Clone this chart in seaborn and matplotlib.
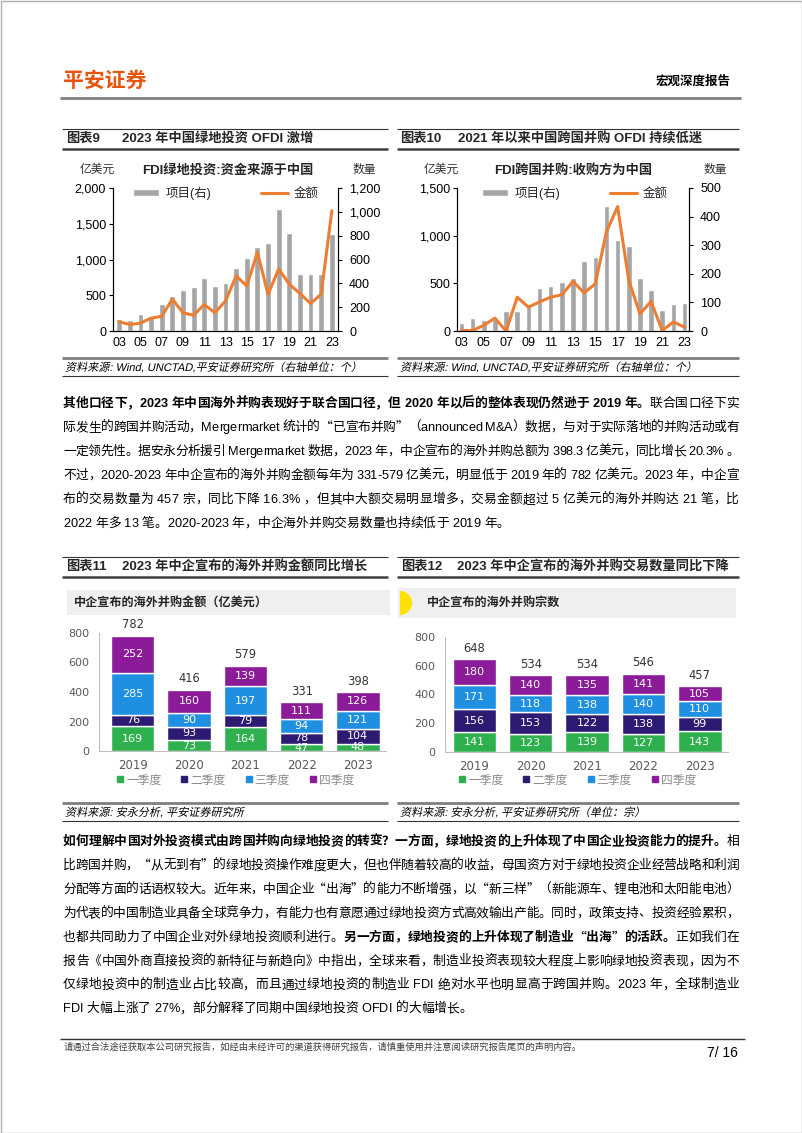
import numpy as np
import pandas as pd
import matplotlib
matplotlib.use('Agg')
import matplotlib.pyplot as plt
import seaborn as sns
from matplotlib.patches import Patch, Rectangle, Wedge, PathPatch
from matplotlib.lines import Line2D
from matplotlib.ticker import FuncFormatter
from matplotlib.textpath import TextPath
from matplotlib.font_manager import FontProperties
from matplotlib.transforms import Affine2D

W, H = 802, 1133

# ---- 图表9 / 图表10 数据 ----
fdi_years = ['03', '04', '05', '06', '07', '08', '09', '10', '11', '12', '13',
             '14', '15', '16', '17', '18', '19', '20', '21', '22', '23']
green_projects = [100, 90, 140, 130, 225, 290, 340, 370, 445, 375, 400,
                  530, 615, 705, 740, 1020, 825, 475, 475, 475, 815]
green_amount = [130, 90, 110, 180, 205, 445, 255, 220, 370, 255, 420,
                770, 630, 1100, 515, 865, 655, 525, 385, 515, 1680]
ma_projects = [29, 44, 40, 43, 71, 71, 96, 150, 156, 170, 184,
               245, 259, 438, 318, 297, 185, 142, 75, 93, 97]
ma_amount = [5, 5, 60, 135, 0, 355, 250, 305, 355, 380, 520,
             400, 495, 1040, 1305, 530, 180, 310, 5, 95, 40]

# ---- 图表11 / 图表12 数据 ----
deal_years = ['2019', '2020', '2021', '2022', '2023']
quarters = ['一季度', '二季度', '三季度', '四季度']
amount_q1 = [169, 73, 164, 47, 48]
amount_q2 = [76, 93, 79, 78, 104]
amount_q3 = [285, 90, 197, 94, 121]
amount_q4 = [252, 160, 139, 111, 126]
amount_total = [782, 416, 579, 331, 398]
count_q1 = [141, 123, 139, 127, 143]
count_q2 = [156, 153, 122, 138, 99]
count_q3 = [171, 118, 138, 140, 110]
count_q4 = [180, 140, 135, 141, 105]
count_total = [648, 534, 534, 546, 457]

GRAY = '#A5A5A5'
ORANGE = '#ED7D31'
Q_COLORS = ['#2FB04E', '#2D1A72', '#1E8FE1', '#8B1B99']
CJK = 'Noto Sans CJK SC'
LAT = ['Liberation Sans', CJK]
VER = ['DejaVu Sans', CJK]

sns.set_theme(style='white')
plt.rcParams['font.family'] = LAT
plt.rcParams['axes.unicode_minus'] = False

fig = plt.figure(figsize=(W / 100, H / 100), dpi=100)
page = fig.add_axes([0, 0, 1, 1])
page.set_xlim(0, W)
page.set_ylim(H, 0)
page.axis('off')
renderer = fig.canvas.get_renderer()


def box(x0, y0, x1, y1):
    return [x0 / W, 1 - y1 / H, (x1 - x0) / W, (y1 - y0) / H]


def hline(x0, x1, y, color='#333333', lw=0.8):
    page.plot([x0, x1], [y, y], color=color, lw=lw, solid_capstyle='butt')


def slanted(x, y, s, size_px, color='#000000'):
    # 斜体（中文字体没有 italic，用 skew 模拟）
    path = TextPath((0, 0), s, size=size_px, prop=FontProperties(family=LAT))
    tr = Affine2D().skew_deg(12, 0).scale(1, -1).translate(x, y + size_px * 0.36) + page.transData
    page.add_patch(PathPatch(path, transform=tr, facecolor=color, lw=0))


# ===== 页眉 / 页脚 =====
page.add_patch(Rectangle((0.5, 0.5), W - 1, H - 1, fill=False, ec='#b0b0b0', lw=1))
page.text(63, 80, '平安证券', fontsize=15, weight='bold', color='#E9540D', va='center', family=[CJK])
page.text(731, 81, '宏观深度报告', fontsize=9, weight='bold', color='#000000', va='center', ha='right', family=[CJK])
hline(60, 741, 98, color='#7f7f7f', lw=2)
hline(60, 745, 1039, color='#333333', lw=1)
page.text(64, 1047, '请通过合法途径获取本公司研究报告，如经由未经许可的渠道获得研究报告，请慎重使用并注意阅读研究报告尾页的声明内容。',
          fontsize=6.7, color='#404040', va='center', family=[CJK])
page.text(738, 1053, '7/ 16', fontsize=10, color='#000000', va='center', ha='right')


def fig_title(x0, x1, y, num, text, num_x, text_x):
    hline(x0, x1, y - 10, color='#333333', lw=0.8)
    hline(x0, x1, y + 10, color='#404040', lw=1.8)
    page.text(num_x, y, num, fontsize=9.5, weight='bold', va='center')
    page.text(text_x, y, text, fontsize=9.5, weight='bold', va='center')


def source(x0, x1, y, text):
    hline(x0, x1, y - 9, color='#7f7f7f', lw=2)
    hline(x0, x1, y + 9, color='#333333', lw=0.8)
    slanted(x0 + 3, y, text, 11.1)


fig_title(62, 388, 139, '图表9', '2023 年中国绿地投资 OFDI 激增', 66, 122)
fig_title(397, 739, 139, '图表10', '2021 年以来中国跨国并购 OFDI 持续低迷', 400, 458)
fig_title(62, 388, 567, '图表11', '2023 年中企宣布的海外并购金额同比增长', 66, 122)
fig_title(397, 739, 567, '图表12', '2023 年中企宣布的海外并购交易数量同比下降', 401, 457)
source(62, 388, 367, '资料来源: Wind, UNCTAD,平安证券研究所（右轴单位：个）')
source(397, 739, 367, '资料来源: Wind, UNCTAD,平安证券研究所（右轴单位：个）')
source(62, 388, 812, '资料来源: 安永分析, 平安证券研究所')
source(397, 739, 812, '资料来源: 安永分析, 平安证券研究所（单位：宗）')


# ===== 图表9 / 10：柱 + 线 双轴 =====
def dual_chart(x0, x1, projects, amount, left_max, left_step, right_max, right_step,
               title, pad, bar_w, title_x, legend_x):
    ax = fig.add_axes(box(x0, 188, x1, 331))
    ax.set_facecolor('none')
    df = pd.DataFrame({'year': fdi_years, 'projects': projects, 'amount': amount})
    sns.barplot(data=df, x='year', y='projects', color=GRAY, width=bar_w, saturation=1, ax=ax)
    ax2 = ax.twinx()
    sns.lineplot(x=np.arange(len(fdi_years)), y=df['amount'], color=ORANGE, linewidth=2.2, ax=ax2)
    ax.yaxis.tick_right()
    ax2.yaxis.tick_left()
    ax.set_ylim(0, right_max)
    ax.set_yticks(np.arange(0, right_max + 1, right_step))
    ax2.set_ylim(0, left_max)
    ax2.set_yticks(np.arange(0, left_max + 1, left_step))
    ax.set_xlim(-pad, len(fdi_years) - 1 + pad)
    ax.set_xticks(range(0, len(fdi_years), 2))
    ax.set_xticklabels(fdi_years[::2])
    fmt = FuncFormatter(lambda v, p: f'{v:,.0f}')
    for a in (ax, ax2):
        a.set_xlabel('')
        a.set_ylabel('')
        a.yaxis.set_major_formatter(fmt)
        a.spines['top'].set_visible(False)
        for s in ('left', 'right', 'bottom'):
            a.spines[s].set_color('#000000')
            a.spines[s].set_linewidth(0.8)
        a.tick_params(axis='y', direction='out', length=3, width=0.8, labelsize=9, pad=2, colors='#000000')
    ax.tick_params(axis='y', pad=5)
    ax.tick_params(axis='x', length=0, labelsize=9, pad=4, colors='#000000')
    handles = [Patch(facecolor=GRAY), Line2D([0], [0], color=ORANGE, lw=2.2)]
    ax2.legend(handles, ['项目(右)', '金额'], loc='center', bbox_to_anchor=(legend_x / W, 1 - 193 / H),
               bbox_transform=fig.transFigure, ncol=2, frameon=False, fontsize=9,
               handlelength=2.1, handleheight=0.5, columnspacing=4, handletextpad=0.5)
    page.text(title_x, 170, title, fontsize=9.5, weight='bold', ha='center', va='center')
    page.text(x0 - 16, 170, '亿美元', fontsize=8.5, ha='center', va='center', color='#333333')
    page.text(x1 + 26, 170, '数量', fontsize=8.5, ha='center', va='center', color='#333333')


dual_chart(113, 338, green_projects, green_amount, 2000, 500, 1200, 200,
           'FDI绿地投资:资金来源于中国', 0.58, 0.55, 228, 226)
dual_chart(457, 689, ma_projects, ma_amount, 1500, 500, 500, 100,
           'FDI跨国并购:收购方为中国', 0.4, 0.5, 573, 575)


# ===== 图表11 / 12：季度堆积柱 =====
def stack_chart(x0, y0, x1, y1, series, totals, band, band_text, text_x, legend_x, xlim, semicircle):
    bx0, by0, bx1, by1 = band
    page.add_patch(Rectangle((bx0, by0), bx1 - bx0, by1 - by0, color='#EFEFEF', lw=0))
    if semicircle:
        page.add_patch(Wedge((bx0 + 2, (by0 + by1) / 2), 12, -90, 90, color='#FFE100', lw=0))
    page.text(text_x, (by0 + by1) / 2, band_text, fontsize=8.7, weight='bold', va='center', color='#262626')

    ax = fig.add_axes(box(x0, y0, x1, y1))
    ax.set_facecolor('none')
    bottom = np.zeros(len(deal_years))
    for vals, c in zip(series, Q_COLORS):
        sns.barplot(x=deal_years, y=vals, bottom=bottom, color=c, width=0.77, saturation=1, ax=ax)
        for i, (b, v) in enumerate(zip(bottom, vals)):
            ax.text(i, b + v / 2, str(v), ha='center', va='center', color='white',
                    fontsize=8, family=VER, clip_on=True)
        bottom = bottom + np.array(vals)
    for i, t in enumerate(totals):
        ax.annotate(str(t), (i, t), xytext=(0, 3), textcoords='offset points', ha='center',
                    va='bottom', fontsize=8.3, color='#333333', family=VER, annotation_clip=False)
    ax.set_ylim(0, 800)
    ax.set_yticks([0, 200, 400, 600, 800])
    ax.set_xlim(*xlim)
    ax.set_xlabel('')
    ax.set_ylabel('')
    for s in ('top', 'right'):
        ax.spines[s].set_visible(False)
    for s in ('left', 'bottom'):
        ax.spines[s].set_color('#BFBFBF')
        ax.spines[s].set_linewidth(0.8)
    ax.tick_params(axis='y', direction='out', length=3, width=0.8, color='#BFBFBF',
                   labelsize=8, labelcolor='#595959', pad=4)
    ax.tick_params(axis='x', length=0, labelsize=8.5, labelcolor='#595959', pad=6)
    for lab in ax.get_xticklabels() + ax.get_yticklabels():
        lab.set_family(VER)
    handles = [Line2D([0], [0], marker='s', ls='', color=c, markersize=5) for c in Q_COLORS]
    leg = ax.legend(handles, quarters, loc='center', bbox_to_anchor=(legend_x / W, 1 - 780 / H),
                    bbox_transform=fig.transFigure, ncol=4, frameon=False, fontsize=8.5,
                    handlelength=0.7, handletextpad=0.15, columnspacing=1.6, labelcolor='#8C8C8C')
    for t in leg.get_texts():
        t.set_family([CJK])


stack_chart(99, 633, 386, 751, [amount_q1, amount_q2, amount_q3, amount_q4], amount_total,
            (67, 590, 390, 615), '中企宣布的海外并购金额（亿美元）', 74, 235, (-0.6, 4.5), False)
stack_chart(445, 637, 728, 752, [count_q1, count_q2, count_q3, count_q4], count_total,
            (398, 588, 736, 618), '中企宣布的海外并购宗数', 427, 577, (-0.52, 4.5), True)


# ===== 正文（两端对齐，逐字排版） =====
BODY = 9.2
QUOTES = '“”'
_cache = {}


def char_font(ch):
    return [CJK] if ch in QUOTES else LAT


def char_w(ch, bold):
    key = (ch, bold)
    if key not in _cache:
        w = []
        for s in ('|' + ch + '|', '||'):
            t = page.text(0, 0, s, fontsize=BODY, weight='bold' if bold else 'normal', family=char_font(ch))
            w.append(t.get_window_extent(renderer).width)
            t.remove()
        _cache[key] = w[0] - w[1]
    return _cache[key]


def paragraph(lines, y0, dy, x0=63, x1=739):
    for k, segs in enumerate(lines):
        chars = [(ch, b) for txt, b in segs for ch in txt]
        widths = [char_w(ch, b) for ch, b in chars]
        gap = 0 if k == len(lines) - 1 else (x1 - x0 - sum(widths)) / (len(chars) - 1)
        x = x0
        for (ch, b), w in zip(chars, widths):
            if ch != ' ':
                page.text(x, y0 + k * dy, ch, fontsize=BODY, weight='bold' if b else 'normal',
                          va='center', ha='left', color='#000000', family=char_font(ch))
            x += w + gap


para1 = [
    [('其他口径下，2023 年中国海外并购表现好于联合国口径，但 2020 年以后的整体表现仍然逊于 2019 年。', True),
     ('联合国口径下实', False)],
    [('际发生的跨国并购活动，Mergermarket 统计的“已宣布并购”（announced M&A）数据，与对于实际落地的并购活动或有', False)],
    [('一定领先性。据安永分析援引 Mergermarket 数据，2023 年，中企宣布的海外并购总额为 398.3 亿美元，同比增长 20.3% 。', False)],
    [('不过，2020-2023 年中企宣布的海外并购金额每年为 331-579 亿美元，明显低于 2019 年的 782 亿美元。2023 年，中企宣', False)],
    [('布的交易数量为 457 宗，同比下降 16.3% ，但其中大额交易明显增多，交易金额超过 5 亿美元的海外并购达 21 笔，比', False)],
    [('2022 年多 13 笔。2020-2023 年，中企海外并购交易数量也持续低于 2019 年。', False)],
]
para2 = [
    [('如何理解中国对外投资模式由跨国并购向绿地投资的转变？一方面，绿地投资的上升体现了中国企业投资能力的提升。', True),
     ('相', False)],
    [('比跨国并购，“从无到有”的绿地投资操作难度更大，但也伴随着较高的收益，母国资方对于绿地投资企业经营战略和利润', False)],
    [('分配等方面的话语权较大。近年来，中国企业“出海”的能力不断增强，以“新三样”（新能源车、锂电池和太阳能电池）', False)],
    [('为代表的中国制造业具备全球竞争力，有能力也有意愿通过绿地投资方式高效输出产能。同时，政策支持、投资经验累积，', False)],
    [('也都共同助力了中国企业对外绿地投资顺利进行。', False),
     ('另一方面，绿地投资的上升体现了制造业“出海”的活跃。', True),
     ('正如我们在', False)],
    [('报告《中国外商直接投资的新特征与新趋向》中指出，全球来看，制造业投资表现较大程度上影响绿地投资表现，因为不', False)],
    [('仅绿地投资中的制造业占比较高，而且通过绿地投资的制造业 FDI 绝对水平也明显高于跨国并购。2023 年，全球制造业', False)],
    [('FDI 大幅上涨了 27%，部分解释了同期中国绿地投资 OFDI 的大幅增长。', False)],
]
paragraph(para1, 404, 24)
paragraph(para2, 842, 23.9)

fig.savefig('out.png', dpi=100)
